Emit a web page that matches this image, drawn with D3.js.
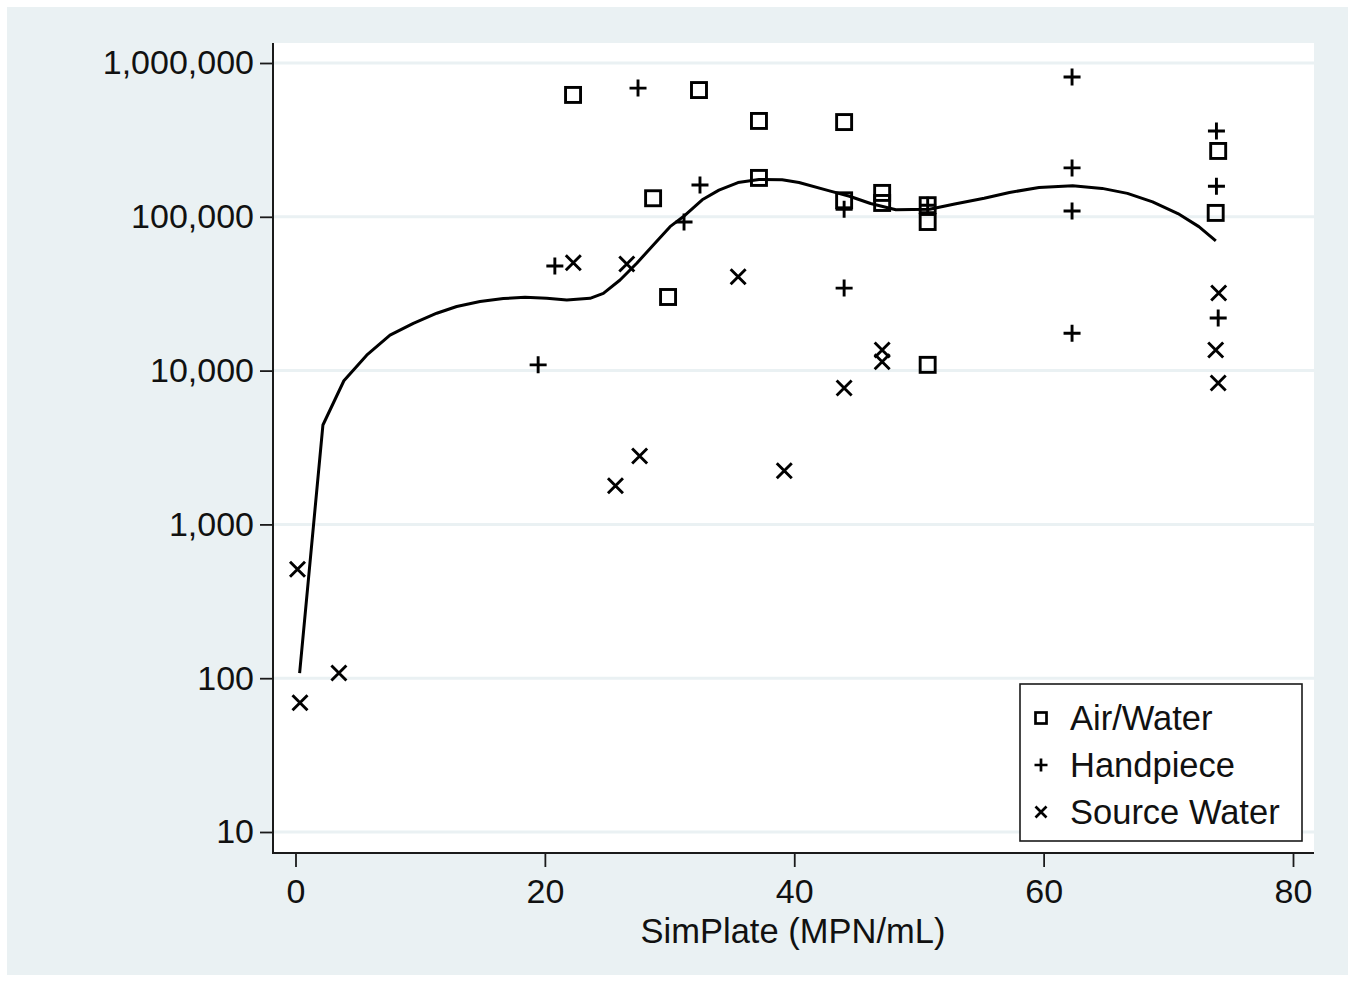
<!DOCTYPE html>
<html>
<head>
<meta charset="utf-8">
<script src="https://cdn.jsdelivr.net/npm/d3@7"></script>
<style>
  html, body { margin: 0; padding: 0; background: #ffffff; }
  svg { display: block; font-family: "Liberation Sans", Arial, sans-serif; }
</style>
</head>
<body>
<svg id="chart" width="1355" height="981"></svg>
<script>
// ---- Data ----
const airWaterX = [22.26, 32.36, 37.17, 44.0, 28.68, 37.17, 44.0, 47.05, 47.05, 50.7, 50.7, 29.88, 50.7, 74.0, 73.8];
const airWaterY = [620000, 667000, 420000, 413000, 132000, 179000, 128000, 143000, 123000, 119000, 92500, 30100, 10900, 268000, 106000];

const handpieceX = [27.47, 62.28, 73.86, 32.44, 62.28, 73.86, 31.16, 44.0, 62.28, 20.8, 44.0, 62.28, 74.0, 19.46, 50.7];
const handpieceY = [687000, 811000, 361000, 161000, 208000, 158000, 92500, 112000, 109000, 47900, 34400, 17500, 22000, 10900, 119000];

const sourceX = [0.16, 0.36, 3.48, 25.66, 27.6, 39.2, 22.28, 26.57, 35.5, 44.0, 47.05, 47.05, 74.04, 73.8, 74.0];
const sourceY = [511, 69.3, 108, 1786, 2786, 2234, 50300, 49300, 40800, 7700, 13600, 11400, 32000, 13600, 8300];

const lowessX = [0.33, 2.20, 3.88, 5.71, 7.58, 9.45, 11.33, 12.93, 14.80, 16.67, 18.41, 20.15, 21.76, 23.62, 24.69, 26.03, 27.37, 28.70, 30.04, 31.09, 32.62, 33.96, 35.49, 37.17, 39.03, 40.38, 42.75, 44.43, 46.12, 48.15, 50.85, 52.87, 55.23, 57.26, 59.63, 62.33, 64.69, 66.72, 68.74, 70.77, 72.45, 73.81];
const lowessY = [108, 4430, 8590, 12600, 17000, 20300, 23600, 26100, 28100, 29400, 30000, 29500, 28800, 29500, 31800, 38800, 49900, 65600, 86300, 100000, 129000, 149000, 167000, 175000, 174000, 167000, 148000, 136000, 122000, 111000, 112000, 121000, 132000, 144000, 155000, 159000, 153000, 142000, 125000, 105000, 86300, 69700];

const xTicks = [0, 20, 40, 60, 80];
const yTicks = [10, 100, 1000, 10000, 100000, 1000000];
const xTitle = "SimPlate (MPN/mL)";
const legendLabels = ["Air/Water", "Handpiece", "Source Water"];

// ---- Layout ----
const svg = d3.select("#chart");
const W = 1355, H = 981;
const plot = { left: 273, right: 1314, top: 43, bottom: 853 };
const bg = "#eaf1f3";
const fontSize = 34;

svg.append("rect").attr("x", 0).attr("y", 0).attr("width", W).attr("height", H).attr("fill", "#ffffff");
svg.append("rect").attr("x", 7).attr("y", 7).attr("width", 1341).attr("height", 968).attr("fill", bg);
svg.append("rect").attr("x", plot.left).attr("y", plot.top)
  .attr("width", plot.right - plot.left).attr("height", plot.bottom - plot.top).attr("fill", "#ffffff");

const x = d3.scaleLinear().domain([0, 80]).range([295.5, 1293]);
const y = d3.scaleLog().domain([10, 1e6]).range([832, 63]);

// grid lines
svg.append("g").selectAll("line").data(yTicks).join("line")
  .attr("x1", plot.left).attr("x2", plot.right)
  .attr("y1", d => y(d)).attr("y2", d => y(d))
  .attr("stroke", bg).attr("stroke-width", 3);

// axes
const yAxis = d3.axisLeft(y).tickValues(yTicks).tickFormat(d3.format(",")).tickSize(13).tickPadding(6);
const gy = svg.append("g").attr("transform", `translate(${plot.left},0)`).call(yAxis);
gy.select(".domain").remove();
gy.selectAll(".tick line").attr("stroke", "#1a1a1a").attr("stroke-width", 1.8);
gy.selectAll(".tick text").attr("font-size", fontSize).attr("fill", "#111").attr("font-family", "Liberation Sans, Arial, sans-serif");

const xAxis = d3.axisBottom(x).tickValues(xTicks).tickFormat(d3.format("d")).tickSize(14).tickPadding(12);
const gx = svg.append("g").attr("transform", `translate(0,${plot.bottom})`).call(xAxis);
gx.select(".domain").remove();
gx.selectAll(".tick line").attr("stroke", "#1a1a1a").attr("stroke-width", 1.8);
gx.selectAll(".tick text").attr("font-size", fontSize).attr("fill", "#111").attr("font-family", "Liberation Sans, Arial, sans-serif");

svg.append("line").attr("x1", plot.left).attr("x2", plot.left).attr("y1", plot.top).attr("y2", plot.bottom + 1)
  .attr("stroke", "#1a1a1a").attr("stroke-width", 2);
svg.append("line").attr("x1", plot.left).attr("x2", plot.right).attr("y1", plot.bottom).attr("y2", plot.bottom)
  .attr("stroke", "#1a1a1a").attr("stroke-width", 2);

svg.append("text").attr("x", 793).attr("y", 943).attr("text-anchor", "middle")
  .attr("font-size", 34.5).attr("fill", "#111").text(xTitle);

// ---- marker shapes ----
function square(g, s, sw) {
  g.append("rect").attr("x", -s / 2).attr("y", -s / 2).attr("width", s).attr("height", s)
    .attr("fill", "none").attr("stroke", "#000").attr("stroke-width", sw);
}
function plus(g, s, sw) {
  g.append("path").attr("d", `M${-s / 2},0H${s / 2}M0,${-s / 2}V${s / 2}`)
    .attr("stroke", "#000").attr("stroke-width", sw).attr("fill", "none");
}
function cross(g, s, sw) {
  const h = s / 2;
  g.append("path").attr("d", `M${-h},${-h}L${h},${h}M${-h},${h}L${h},${-h}`)
    .attr("stroke", "#000").attr("stroke-width", sw).attr("fill", "none");
}

// lowess line
const lowess = lowessX.map((d, i) => [d, lowessY[i]]);
svg.append("path").datum(lowess)
  .attr("d", d3.line().x(d => x(d[0])).y(d => y(d[1])).curve(d3.curveLinear))
  .attr("fill", "none").attr("stroke", "#000").attr("stroke-width", 3).attr("stroke-linejoin", "round");

function drawSeries(xs, ys, fn, s, sw) {
  const g = svg.append("g");
  xs.forEach((xv, i) => {
    const m = g.append("g").attr("transform", `translate(${x(xv)},${y(ys[i])})`);
    fn(m, s, sw);
  });
}
drawSeries(airWaterX, airWaterY, square, 15, 2.9);
drawSeries(handpieceX, handpieceY, plus, 17, 2.9);
drawSeries(sourceX, sourceY, cross, 15, 2.9);

// ---- legend ----
const lg = svg.append("g");
lg.append("rect").attr("x", 1020).attr("y", 684).attr("width", 282).attr("height", 157)
  .attr("fill", "#fff").attr("stroke", "#1a1a1a").attr("stroke-width", 1.6);
const legendFns = [square, plus, cross];
const legendSizes = [[11, 2.7], [13, 2.7], [11, 2.7]];
legendLabels.forEach((lab, i) => {
  const cy = 718 + i * 47;
  const m = lg.append("g").attr("transform", `translate(1041,${cy})`);
  legendFns[i](m, legendSizes[i][0], legendSizes[i][1]);
  lg.append("text").attr("x", 1070).attr("y", cy + 12).attr("font-size", 34.5).attr("fill", "#111").text(lab);
});
</script>
</body>
</html>
